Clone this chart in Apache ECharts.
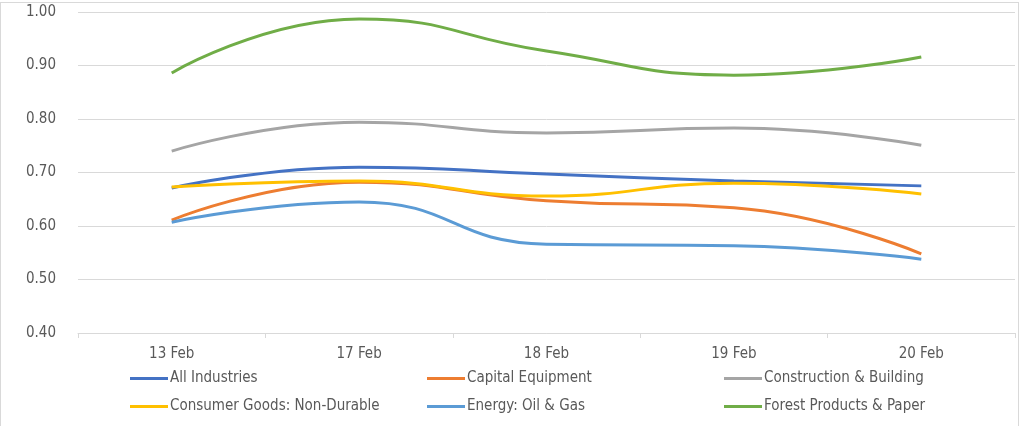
<!DOCTYPE html>
<html><head><meta charset="utf-8">
<script src="https://cdn.jsdelivr.net/npm/echarts@6/dist/echarts.min.js"></script>
<style>
html,body{margin:0;padding:0;background:#fff;}
#frame{position:absolute;left:0;top:2px;width:1019px;height:440px;border:1px solid #D9D9D9;box-sizing:border-box;}
#chart{position:absolute;left:0;top:0;width:1024px;height:426px;}
</style></head>
<body>
<div id="frame"></div>
<div id="chart"></div>
<script>
const categories = ['13 Feb','17 Feb','18 Feb','19 Feb','20 Feb'];
const seriesNames = ['All Industries','Capital Equipment','Construction & Building','Consumer Goods: Non-Durable','Energy: Oil & Gas','Forest Products & Paper'];
const allIndustries = [0.671,0.710,0.697,0.684,0.675];
const capitalEquipment = [0.611,0.682,0.647,0.634,0.548];
const construction = [0.740,0.794,0.774,0.783,0.751];
const consumerGoods = [0.673,0.684,0.656,0.680,0.660];
const energy = [0.607,0.645,0.566,0.563,0.538];
const forest = [0.886,0.987,0.927,0.882,0.916];
const yTicks = [0.40,0.50,0.60,0.70,0.80,0.90,1.00];

const values = [allIndustries,capitalEquipment,construction,consumerGoods,energy,forest];
const colors = ['#4472C4','#ED7D31','#A5A5A5','#FFC000','#5B9BD5','#70AD47'];
const legendPos = [[130,371],[427,371],[724,371],[130,399],[427,399],[724,399]];
const font = '"Liberation Sans Narrow","DejaVu Sans Condensed",sans-serif';

const chart = echarts.init(document.getElementById('chart'));
chart.setOption({
  animation:false,
  grid:{left:78,right:9,top:12,bottom:93},
  legend: seriesNames.map((n,i)=>({
    data:[n], left:legendPos[i][0], top:legendPos[i][1], padding:0,
    itemWidth:38, itemHeight:3, itemGap:0,
    icon:'rect',
    textStyle:{color:'#595959',fontSize:15,fontFamily:font,padding:[0,0,0,-3]}
  })),
  xAxis:{type:'category',data:categories,boundaryGap:true,
    axisLine:{lineStyle:{color:'#D9D9D9',width:1}},
    axisTick:{show:true,length:5,lineStyle:{color:'#D9D9D9'}},
    axisLabel:{color:'#595959',fontSize:15,fontFamily:font,margin:14}},
  yAxis:{type:'value',min:yTicks[0],max:yTicks[yTicks.length-1],interval:0.1,
    axisLine:{show:false},axisTick:{show:false},
    splitLine:{lineStyle:{color:'#D9D9D9',width:1}},
    axisLabel:{color:'#595959',fontSize:15,fontFamily:font,margin:22,formatter:v=>v.toFixed(2)}},
  series: seriesNames.map((n,i)=>({
    name:n,type:'line',data:values[i],smooth:0.5,symbol:'none',
    lineStyle:{color:colors[i],width:3},itemStyle:{color:colors[i]}
  }))
});
</script>
</body></html>
